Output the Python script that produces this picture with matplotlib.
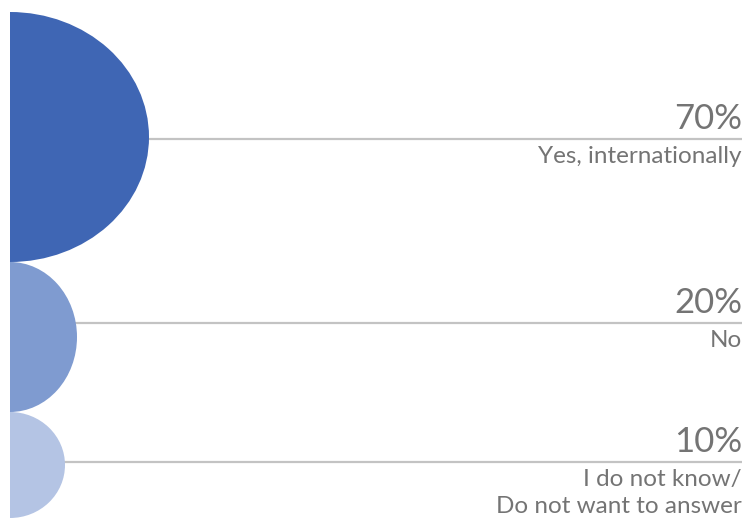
import matplotlib.pyplot as plt
from matplotlib.patches import Ellipse, Rectangle

# data
values = [70, 20, 10]
labels = ['Yes, internationally', 'No', 'I do not know/\nDo not want to answer']
colors = ['#3F66B4', '#7F9BD0', '#B4C4E4']

# layout (pixel space, y downwards)
centers_y = [137, 337, 465]
half_w = [139, 67, 55]
half_h = [125, 75, 53]
line_y = [139, 323, 462]
left_x = 10
right_x = 742

plt.rcParams['font.family'] = ['Lato', 'DejaVu Sans']

fig = plt.figure(figsize=(7.45, 5.18), dpi=100)
ax = fig.add_axes([0, 0, 1, 1])
ax.set_xlim(0, 745)
ax.set_ylim(518, 0)
ax.axis('off')

clip = Rectangle((left_x, 0), 745 - left_x, 518, transform=ax.transData)

for i, v in enumerate(values):
    ax.plot([left_x, right_x], [line_y[i], line_y[i]], color='#C3C3C3',
            linewidth=1.6, solid_capstyle='butt', zorder=1)
    e = Ellipse((left_x, centers_y[i]), 2 * half_w[i], 2 * half_h[i],
                facecolor=colors[i], edgecolor='none', zorder=2)
    ax.add_patch(e)
    e.set_clip_path(clip)

    ax.text(right_x, line_y[i] - 10, f'{v}%', ha='right', va='baseline',
            fontsize=25, color='#747474')
    for k, part in enumerate(labels[i].split('\n')):
        ax.text(right_x, line_y[i] + 24 + 27 * k, part, ha='right',
                va='baseline', fontsize=17.5, color='#747474')

plt.savefig('out.png', dpi=100)
